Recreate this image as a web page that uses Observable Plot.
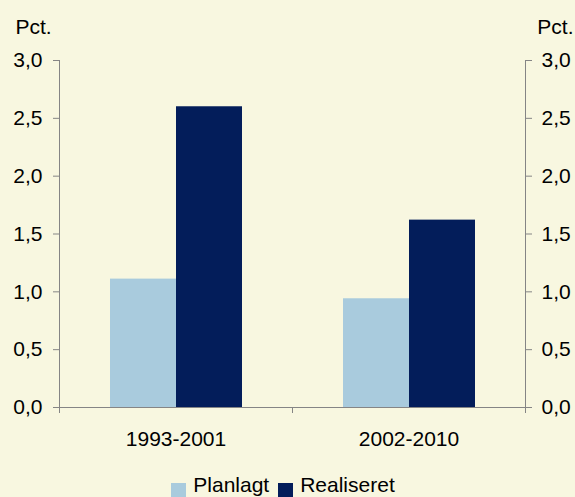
<!DOCTYPE html>
<html>
<head>
<meta charset="utf-8">
<script src="https://cdn.jsdelivr.net/npm/d3@7"></script>
<script src="https://cdn.jsdelivr.net/npm/@observablehq/plot@0.6"></script>
<style>
html, body { margin: 0; padding: 0; background: #F8F7E0; }
#chart { width: 575px; height: 497px; overflow: hidden; font-family: "Liberation Sans", Arial, sans-serif; color: #000; }
#chart svg { display: block; }
.lg-swatches { justify-content: center; margin: 0 !important; font-size: 21px !important; }
.lg-swatch { margin-right: 9px !important; }
.lg-swatch > svg { margin-right: 7px !important; position: relative; top: 6px; }
</style>
</head>
<body>
<div id="chart"></div>
<script>
// ---- data ----
const periods = ["1993-2001", "2002-2010"];
const series = ["Planlagt", "Realiseret"];
const planlagt = [1.11, 0.94];
const realiseret = [2.60, 1.62];
const yTicks = [0, 0.5, 1, 1.5, 2, 2.5, 3];
const seriesColors = ["#A9CBDD", "#031D5A"];
const unitLabel = "Pct.";

// ---- build table ----
const data = periods.flatMap((p, i) => [
  {period: p, series: series[0], value: planlagt[i]},
  {period: p, series: series[1], value: realiseret[i]}
]);
const fmt = d => d.toFixed(1).replace(".", ",");
const axisColor = "#858585";
const font = "'Liberation Sans', Arial, sans-serif";

const chart = Plot.plot({
  width: 575,
  height: 468,
  marginTop: 60,
  marginBottom: 61,
  marginLeft: 59,
  marginRight: 50,
  style: {background: "transparent", fontFamily: font, fontSize: "21px", color: "#000", overflow: "visible"},
  fx: {domain: periods, padding: 0, label: null},
  x: {domain: series, paddingInner: 0, paddingOuter: 0.75, axis: null},
  y: {domain: [0, 3], label: null},
  color: {domain: series, range: seriesColors},
  marks: [
    Plot.barY(data, {fx: "period", x: "series", y: "value", fill: "series"}),
    Plot.ruleY([0], {stroke: axisColor, strokeWidth: 1}),
    Plot.axisFx({anchor: "bottom", tickSize: 0, tickPadding: 24, label: null, fill: "#000", fontSize: 21}),
    Plot.axisY(yTicks, {anchor: "left", tickSize: 6, tickPadding: 11, tickFormat: fmt, stroke: axisColor, fill: "#000", label: null, fontSize: 21}),
    Plot.axisY(yTicks, {anchor: "right", tickSize: 6, tickPadding: 10, tickFormat: fmt, stroke: axisColor, fill: "#000", label: null, fontSize: 21}),
    Plot.text([unitLabel], {frameAnchor: "top-left", facetAnchor: "left", text: d => d, textAnchor: "start", lineAnchor: "bottom", dx: -44, dy: -27, fill: "#000", fontSize: 21}),
    Plot.text([unitLabel], {frameAnchor: "top-right", facetAnchor: "right", text: d => d, textAnchor: "end", lineAnchor: "bottom", dx: 48, dy: -27, fill: "#000", fontSize: 21})
  ]
});

// axis lines and group-edge ticks, placed with the chart's own scales
const fx = chart.scale("fx");
const y = chart.scale("y");
const yTop = y.apply(yTicks[yTicks.length - 1]);
const y0 = y.apply(0);
const left = fx.range[0], right = fx.range[1];
const edges = [...periods.map(p => fx.apply(p)), right];
const g = d3.select(chart).append("g").attr("stroke", axisColor).attr("stroke-width", 1).attr("transform", "translate(0.5,0)");
g.selectAll("line.edge").data(edges).join("line").attr("class", "edge")
  .attr("x1", d => Math.round(d)).attr("x2", d => Math.round(d)).attr("y1", y0).attr("y2", y0 + 6);
g.selectAll("line.ax").data([left, right]).join("line").attr("class", "ax")
  .attr("x1", d => Math.round(d)).attr("x2", d => Math.round(d)).attr("y1", yTop).attr("y2", y0);

const legend = Plot.legend({
  color: {domain: series, range: seriesColors},
  swatchSize: 15,
  className: "lg",
  style: {fontFamily: font, fontSize: "21px", color: "#000", background: "transparent"}
});

const root = document.getElementById("chart");
root.appendChild(chart);
root.appendChild(legend);
</script>
</body>
</html>
